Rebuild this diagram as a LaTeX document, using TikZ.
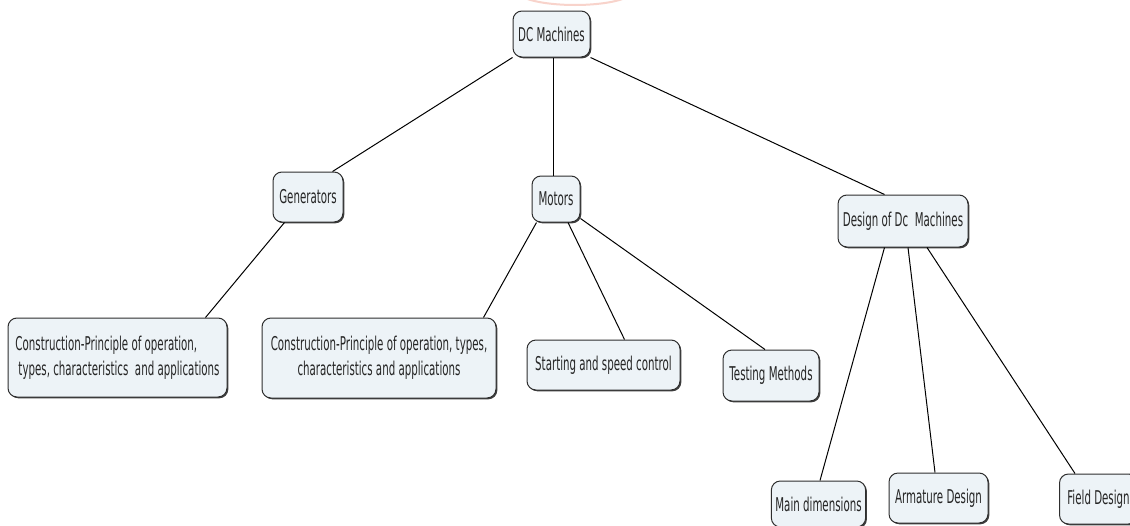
\documentclass[tikz,border=0pt]{standalone}
\usepackage{fontspec}
\setmainfont{DejaVu Sans}[FakeStretch=0.54]
\usetikzlibrary{calc,shadows}
\definecolor{boxfill}{HTML}{EDF3F7}
\definecolor{boxline}{HTML}{2E2E2E}
\definecolor{wmark}{HTML}{F8D3CB}
\tikzset{
  box/.style={draw=boxline, line width=1pt, fill=boxfill, rounded corners=9pt,
    inner sep=4pt, font=\fontsize{19}{25}\selectfont, text=black!85,
    drop shadow={shadow xshift=1.3pt, shadow yshift=-1.3pt, fill=black!75, opacity=1}},
  edge/.style={draw=black, line width=1pt}
}
\begin{document}
\begin{tikzpicture}[x=1pt,y=-1pt]
\useasboundingbox (0,0) rectangle (1130,525);
\clip (0,0) rectangle (1130,525);
\fill[white] (0,0) rectangle (1130,525);
% faint mark at the top
\draw[wmark, line width=2pt] (575,-9) ellipse [x radius=58, y radius=14];

\node[box, minimum width=77pt, minimum height=46pt] (dc) at (551.5,34) {DC Machines};
\node[box, minimum width=70pt, minimum height=50pt] (gen) at (308,197) {Generators};
\node[box, minimum width=48pt, minimum height=46pt] (mot) at (556,199) {Motors};
\node[box, minimum width=130pt, minimum height=52pt] (design) at (903,221) {Design of Dc\ \ Machines};

\node[box, minimum width=219pt, minimum height=79pt, align=left] (genchild) at (117.5,357.5)
  {Construction-Principle of operation,\\\hspace{3pt}types, characteristics\ \ and applications};
\node[box, minimum width=234pt, minimum height=80pt, align=center] (motchild) at (379,358)
  {Construction-Principle of operation, types,\\characteristics and applications};
\node[box, minimum width=153pt, minimum height=50pt] (starting) at (603.5,365) {Starting and speed control};
\node[box, minimum width=96pt, minimum height=51pt] (testing) at (771,375.5) {Testing Methods};

\node[box, minimum width=81pt, minimum height=46pt] (maindim) at (818.5,504) {Main dimensions};
\node[box, minimum width=99pt, minimum height=50pt] (armature) at (938.5,498) {Armature Design};
\node[box, minimum width=78pt, minimum height=50pt, anchor=west] (field) at (1059,499) {Field Design};

\draw[edge] (dc.south west) -- ($(gen.north west)+(60,0)$);
\draw[edge] ($(dc.south)+(1.5,0)$) -- ($(mot.north)+(-3,0)$);
\draw[edge] (dc.south east) -- ($(design.north west)+(47,0)$);
\draw[edge] ($(gen.south west)+(12,0)$) -- ($(genchild.north east)+(-22,0)$);
\draw[edge] ($(mot.south west)+(5,0)$) -- ($(motchild.north east)+(-13,0)$);
\draw[edge] ($(mot.south)+(12,0)$) -- ($(starting.north)+(21,0)$);
\draw[edge] ($(mot.south east)+(0,-4)$) -- ($(testing.north)+(-6,0)$);
\draw[edge] ($(design.south west)+(47,0)$) -- ($(maindim.north)+(1.5,0)$);
\draw[edge] ($(design.south)+(5,0)$) -- ($(armature.north)+(-3.5,0)$);
\draw[edge] ($(design.south)+(24,0)$) -- ($(field.north west)+(16,0)$);
\end{tikzpicture}
\end{document}
